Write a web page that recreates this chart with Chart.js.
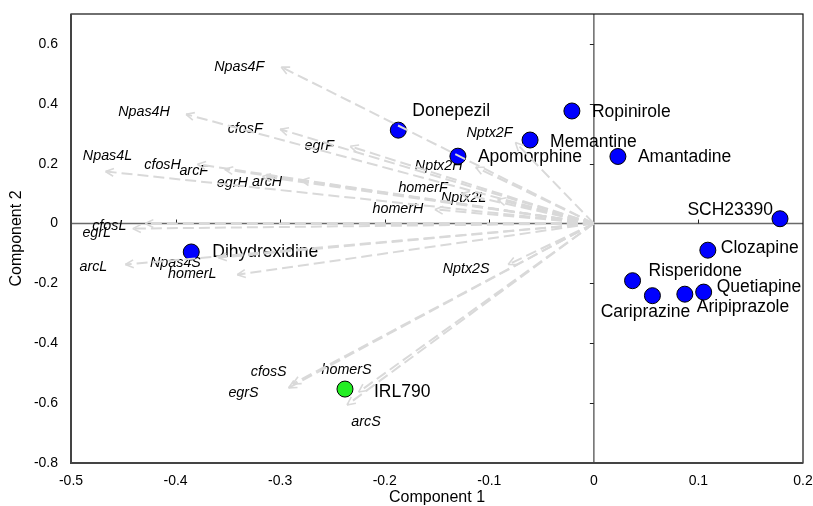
<!DOCTYPE html>
<html>
<head>
<meta charset="utf-8">
<script src="https://cdn.jsdelivr.net/npm/chart.js@4.4.0/dist/chart.umd.min.js"></script>
<style>
html, body { margin: 0; padding: 0; background: #fff; }
#wrap { width: 813px; height: 506px; }
</style>
</head>
<body>
<div id="wrap"><canvas id="pca" width="813" height="506"></canvas></div>
<script>
// compound scores on components 1 and 2
const drugs = ['Donepezil', 'Apomorphine', 'Memantine', 'Ropinirole', 'Amantadine', 'SCH23390',
  'Clozapine', 'Risperidone', 'Cariprazine', 'Aripiprazole', 'Quetiapine', 'Dihydrexidine', 'IRL790'];
const drugPc1 = [-0.187, -0.130, -0.061, -0.021, 0.023, 0.178, 0.109, 0.037, 0.056, 0.087, 0.105, -0.385, -0.238];
const drugPc2 = [0.312, 0.225, 0.279, 0.376, 0.224, 0.016, -0.089, -0.191, -0.241, -0.236, -0.229, -0.095, -0.553];

// gene loadings, drawn as arrows from the origin
const genes = ['Npas4F', 'Npas4H', 'cfosF', 'egrF', 'Npas4L', 'cfosH', 'arcF', 'egrH', 'arcH', 'homerF',
  'Nptx2L', 'homerH', 'Nptx2H', 'Nptx2F', 'cfosL', 'egrL', 'arcL', 'Npas4S', 'homerL', 'Nptx2S',
  'cfosS', 'egrS', 'homerS', 'arcS'];
const genePc1 = [-0.299, -0.390, -0.300, -0.233, -0.467, -0.379, -0.353, -0.317, -0.280, -0.127,
  -0.092, -0.152, -0.113, -0.075, -0.429, -0.441, -0.448, -0.359, -0.341, -0.082,
  -0.288, -0.292, -0.225, -0.236];
const genePc2 = [0.523, 0.365, 0.315, 0.258, 0.174, 0.198, 0.181, 0.157, 0.144, 0.100,
  0.080, 0.047, 0.188, 0.271, 0.000, -0.017, -0.137, -0.114, -0.171, -0.137,
  -0.536, -0.549, -0.563, -0.606];

const xTicks = [-0.5, -0.4, -0.3, -0.2, -0.1, 0, 0.1, 0.2];
const yTicks = [-0.8, -0.6, -0.4, -0.2, 0, 0.2, 0.4, 0.6];

// where each name sits relative to its marker (pixels)
const drugLabelPos = {
  Donepezil: ['left', 14, -19], Apomorphine: ['left', 20, 1], Memantine: ['left', 20, 2],
  Ropinirole: ['left', 20, 1], Amantadine: ['left', 20, 1], SCH23390: ['right', -7, -9],
  Clozapine: ['left', 13, -2], Risperidone: ['left', 16, -10], Cariprazine: ['center', -7, 16],
  Aripiprazole: ['left', 12, 13], Quetiapine: ['left', 13, -5], Dihydrexidine: ['left', 21, 0],
  IRL790: ['left', 29, 3]
};
const geneLabelPos = {
  Npas4F: [-42, 0], Npas4H: [-42, -2], cfosF: [-35, 0], egrF: [-31, 0], Npas4L: [2, -15],
  cfosH: [-35, 1], arcF: [-31, 2], egrH: [-30, 6], arcH: [-34, 2], homerF: [-38, -6],
  Nptx2L: [-34, -2], homerH: [-37, 0], Nptx2H: [-37, -1], Nptx2F: [-26, -9], cfosL: [-36, 2],
  egrL: [-36, 4], arcL: [-32, 2], Npas4S: [-43, 5], homerL: [-45, -1], Nptx2S: [-42, 4],
  cfosS: [-24, -12], egrS: [-45, 5], homerS: [-12, -22], arcS: [19, 17]
};

const FONT = '"Liberation Sans", Arial, sans-serif';
const ARROW = '#d9d9d9';

const geneSets = genes.map((g, i) => ({
  label: g,
  data: [{ x: 0, y: 0 }, { x: genePc1[i], y: genePc2[i] }],
  showLine: true,
  borderColor: ARROW,
  borderWidth: 2,
  borderDash: [11, 5],
  pointRadius: 0
}));

const drugSet = {
  label: 'compounds',
  data: drugs.map((d, i) => ({ x: drugPc1[i], y: drugPc2[i] })),
  pointRadius: 8,
  pointBackgroundColor: drugs.map(d => d === 'IRL790' ? '#22ee22' : '#0000ff'),
  pointBorderColor: '#000',
  pointBorderWidth: 1
};

const biplot = {
  id: 'biplot',
  beforeDatasetsDraw(chart) {
    const { ctx, chartArea: a, scales: { x, y } } = chart;
    const x0 = x.getPixelForValue(0), y0 = y.getPixelForValue(0);
    ctx.save();

    // axes through the origin, with small ticks
    ctx.strokeStyle = '#6a6a6a';
    ctx.lineWidth = 1.5;
    ctx.beginPath();
    ctx.moveTo(a.left, y0); ctx.lineTo(a.right, y0);
    ctx.moveTo(x0, a.top); ctx.lineTo(x0, a.bottom);
    ctx.stroke();
    ctx.lineWidth = 1;
    ctx.strokeStyle = '#222';
    ctx.beginPath();
    xTicks.slice(1, -1).forEach(v => {
      if (v === 0) return;
      const px = Math.round(x.getPixelForValue(v)) + 0.5;
      ctx.moveTo(px, y0); ctx.lineTo(px, y0 - 4);
    });
    yTicks.slice(1).forEach(v => {
      if (v === 0) return;
      const py = Math.round(y.getPixelForValue(v)) + 0.5;
      ctx.moveTo(x0, py); ctx.lineTo(x0 - 4, py);
    });
    ctx.stroke();

    // frame
    ctx.strokeStyle = '#111';
    ctx.lineWidth = 1.2;
    ctx.strokeRect(a.left, a.top, a.right - a.left, a.bottom - a.top);
    ctx.strokeStyle = '#444';
    ctx.lineWidth = 2;
    ctx.beginPath();
    ctx.moveTo(a.left, a.top); ctx.lineTo(a.left, a.bottom); ctx.lineTo(a.right, a.bottom);
    ctx.stroke();

    // compound names
    ctx.fillStyle = '#000';
    ctx.textBaseline = 'middle';
    ctx.font = '17.5px ' + FONT;
    drugs.forEach((d, i) => {
      const [align, dx, dy] = drugLabelPos[d];
      ctx.textAlign = align;
      ctx.fillText(d, x.getPixelForValue(drugPc1[i]) + dx, y.getPixelForValue(drugPc2[i]) + dy);
    });

    // gene names
    ctx.font = 'italic 14.3px ' + FONT;
    ctx.textAlign = 'center';
    genes.forEach((g, i) => {
      const [dx, dy] = geneLabelPos[g];
      ctx.fillText(g, x.getPixelForValue(genePc1[i]) + dx, y.getPixelForValue(genePc2[i]) + dy);
    });
    ctx.restore();
  },
  afterDatasetsDraw(chart) {
    const { ctx, scales: { x, y } } = chart;
    const x0 = x.getPixelForValue(0), y0 = y.getPixelForValue(0);
    ctx.save();
    ctx.strokeStyle = ARROW;
    ctx.lineWidth = 1.6;
    ctx.setLineDash([]);
    genes.forEach((g, i) => {
      const tx = x.getPixelForValue(genePc1[i]), ty = y.getPixelForValue(genePc2[i]);
      const ang = Math.atan2(ty - y0, tx - x0);
      ctx.beginPath();
      [-0.45, 0.45].forEach(o => {
        ctx.moveTo(tx, ty);
        ctx.lineTo(tx - 9 * Math.cos(ang + o), ty - 9 * Math.sin(ang + o));
      });
      ctx.stroke();
    });
    ctx.restore();
  }
};

new Chart(document.getElementById('pca'), {
  type: 'scatter',
  data: { datasets: [...geneSets, drugSet] },
  options: {
    responsive: false,
    animation: false,
    layout: { padding: { left: 0, top: 14, right: 10, bottom: 0 } },
    plugins: { legend: { display: false }, tooltip: { enabled: false } },
    scales: {
      x: {
        type: 'linear', min: -0.5, max: 0.2,
        grid: { display: false, drawTicks: false },
        border: { display: false },
        afterBuildTicks: s => { s.ticks = xTicks.map(v => ({ value: v })); },
        afterFit: s => { s.height = 43; s.paddingLeft = 0; s.paddingRight = 0; },
        ticks: { padding: 10, color: '#000', font: { family: FONT, size: 14 }, callback: v => String(v) },
        title: { display: true, text: 'Component 1', color: '#000',
          font: { family: FONT, size: 16, lineHeight: 1 }, padding: { top: 0, bottom: 0 } }
      },
      y: {
        type: 'linear', min: -0.8, max: 0.7,
        grid: { display: false, drawTicks: false },
        border: { display: false },
        afterBuildTicks: s => { s.ticks = yTicks.map(v => ({ value: v })); },
        afterFit: s => { s.width = 71; s.paddingTop = 0; s.paddingBottom = 0; },
        ticks: { padding: 13, color: '#000', font: { family: FONT, size: 14 }, callback: v => String(v) },
        title: { display: true, text: 'Component 2', color: '#000',
          font: { family: FONT, size: 16, lineHeight: 1 }, padding: { top: 9, bottom: 0 } }
      }
    }
  },
  plugins: [biplot]
});
</script>
</body>
</html>
